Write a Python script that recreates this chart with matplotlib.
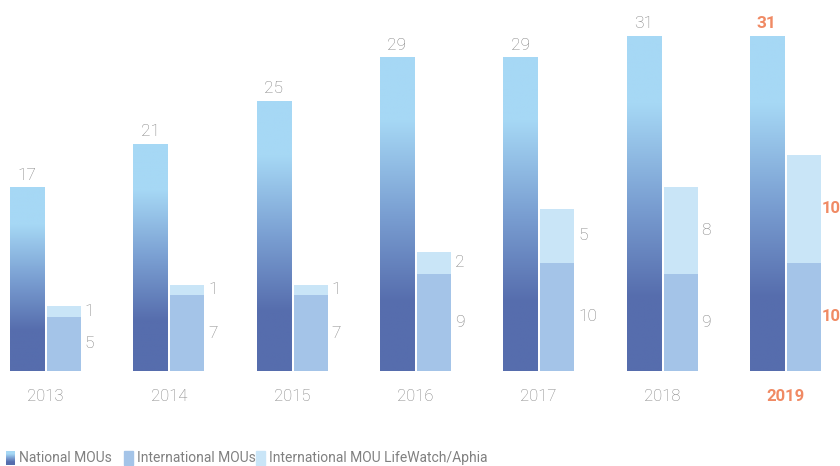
import numpy as np
import matplotlib.pyplot as plt
from matplotlib.colors import LinearSegmentedColormap
from matplotlib.patches import Rectangle

years = ['2013', '2014', '2015', '2016', '2017', '2018', '2019']
national = [17, 21, 25, 29, 29, 31, 31]
international = [5, 7, 7, 9, 10, 9, 10]
lifewatch = [1, 1, 1, 2, 5, 8, 10]

grey = '#808080'
orange = '#f08a64'
c_intl = '#a4c4e8'
c_lw = '#c9e5f7'
grad = LinearSegmentedColormap.from_list(
    'nat', [(0, '#566dad'), (0.22, '#566dad'), (0.5, '#7a9fd2'),
            (0.8, '#a6d8f5'), (1, '#a6d8f5')])
font = ['Roboto', 'DejaVu Sans']

fig = plt.figure(figsize=(8.4, 4.66), dpi=100)
ax = fig.add_axes([0, 0, 1, 1])
ax.axis('off')

w = 0.276
g = np.linspace(0, 1, 256).reshape(-1, 1)
x = np.arange(len(years))
ax.bar(x + 0.15, international, w, color=c_intl, zorder=2)
ax.bar(x + 0.15, lifewatch, w, bottom=international, color=c_lw, zorder=2)

for i, yr in enumerate(years):
    xc = i - 0.15
    ax.imshow(g, cmap=grad, origin='lower', aspect='auto',
              extent=(xc - w / 2, xc + w / 2, 0, national[i]), zorder=2)
    last = i == len(years) - 1
    col = orange if last else grey
    wt = 'bold' if last else 'light'
    fs = 12 if last else 12.5
    ax.text(xc, national[i] + 0.45, str(national[i]), ha='center', va='bottom',
            fontsize=12.5, color=col, weight=wt, family=font)
    xr = i + 0.15 + w / 2 + (0.005 if last else 0.03)
    ax.text(xr, international[i] / 2, str(international[i]), ha='left', va='center',
            fontsize=fs, color=col, weight=wt, family=font)
    ax.text(xr, international[i] + lifewatch[i] / 2, str(lifewatch[i]), ha='left',
            va='center', fontsize=fs, color=col, weight=wt, family=font)
    ax.text(i, -2.4, yr, ha='center', va='center', fontsize=12, color=col,
            weight=wt, family=font)

ax.set_xlim(-0.369, 6.443)
ax.set_ylim(-8.8, 34.35)

# legend
W, H = 840, 466
def fx(px):
    return px / W
def fy(py):
    return 1 - py / H

lax = fig.add_axes([fx(6), fy(465), fx(9), 14 / H])
lax.imshow(g, cmap=grad, origin='lower', aspect='auto')
lax.axis('off')
fig.patches.append(Rectangle((fx(124), fy(465)), fx(9), 14 / H, color=c_intl,
                             transform=fig.transFigure))
fig.patches.append(Rectangle((fx(256), fy(465)), fx(9), 14 / H, color=c_lw,
                             transform=fig.transFigure))
for px, lab in [(19, 'National MOUs'), (137, 'International MOUs'),
                (269, 'International MOU LifeWatch/Aphia')]:
    fig.text(fx(px), fy(458), lab, ha='left', va='center', fontsize=10,
             color=grey, family=font)

fig.savefig('out.png', dpi=100)
